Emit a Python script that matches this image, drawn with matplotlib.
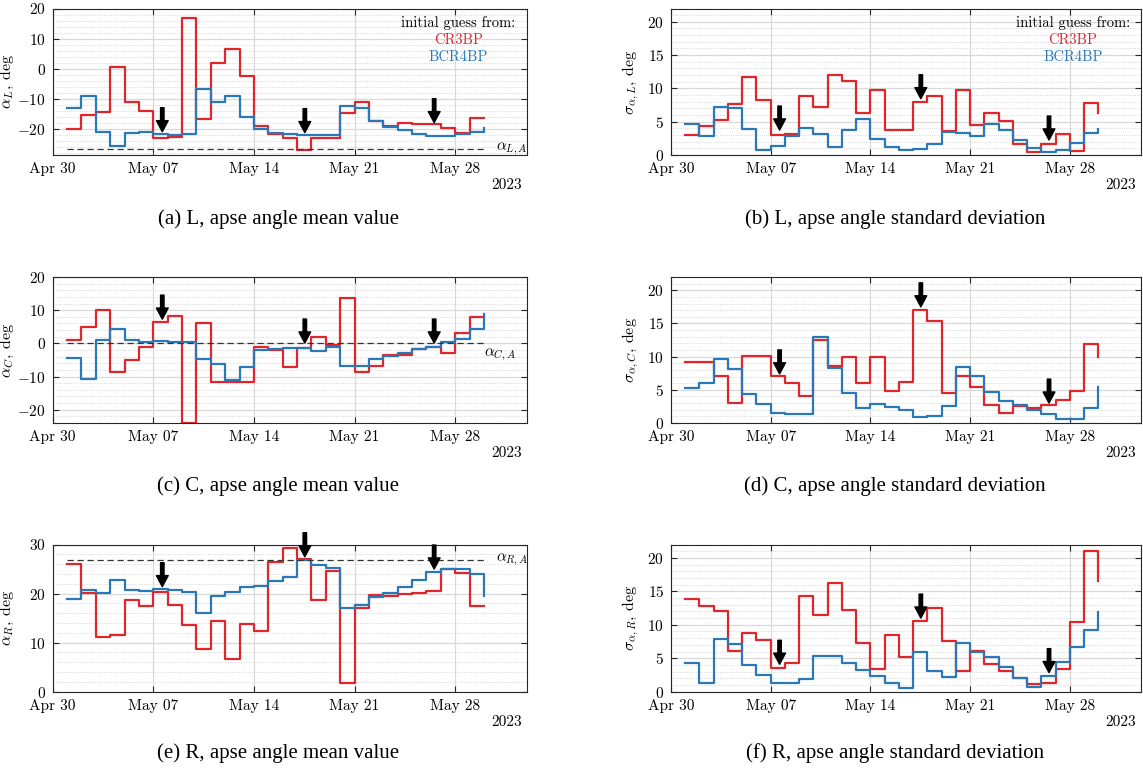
from datetime import datetime, timedelta

import matplotlib
matplotlib.use("Agg")
import matplotlib.pyplot as plt
import matplotlib.dates as mdates
from matplotlib.ticker import MultipleLocator

plt.rcParams['font.family'] = ['cmr10']
plt.rcParams['mathtext.fontset'] = 'cm'
plt.rcParams['axes.unicode_minus'] = False
plt.rcParams['axes.formatter.use_mathtext'] = True

# daily values, May 1 .. May 30 2023
days = [datetime(2023, 5, 1) + timedelta(days=i) for i in range(30)]

aL_cr3bp = [-20, -15.2, -14.2, 0.7, -10.8, -13.8, -22.8, -22.6, 17.0, -16.7, 1.9, 6.7, -2.4, -18.9, -21.4,
            -23.0, -27.0, -22.8, -22.8, -14.6, -10.8, -17.4, -18.9, -18.0, -18.3, -18.3, -19.7, -21.3, -16.3, -16.3]
aL_bcr4bp = [-13.1, -9.0, -20.9, -25.6, -21.1, -20.9, -21.4, -21.9, -21.7, -6.6, -10.8, -9.0, -15.9, -20.0, -21.1,
             -21.7, -22.0, -22.0, -21.9, -12.2, -12.8, -17.2, -19.2, -20.2, -21.4, -22.2, -22.2, -21.7, -20.9, -19.7]

sL_cr3bp = [3.0, 4.3, 5.2, 7.6, 11.65, 8.3, 3.05, 3.15, 8.85, 7.25, 11.95, 11.15, 6.25, 9.7, 3.75,
            3.7, 7.9, 8.8, 3.6, 9.75, 4.45, 6.25, 5.15, 1.65, 0.5, 1.65, 3.15, 0.65, 7.85, 6.25]
sL_bcr4bp = [4.65, 2.9, 7.15, 7.0, 3.85, 0.75, 1.3, 2.9, 4.05, 3.1, 1.2, 3.7, 5.35, 2.35, 1.2,
             0.7, 0.95, 1.65, 3.5, 3.3, 2.9, 4.65, 3.7, 2.2, 1.05, 0.45, 0.75, 1.75, 3.25, 3.85]

aC_cr3bp = [1.0, 5.0, 10.2, -8.5, -4.9, -1.2, 6.3, 8.1, -24.0, 6.2, -11.5, -11.7, -11.5, -1.1, -1.9,
            -7.2, -1.4, 2.0, -0.5, 13.7, -8.5, -6.8, -3.6, -3.6, -1.7, -1.1, -2.9, 3.1, 8.0, 8.0]
aC_bcr4bp = [-4.5, -10.7, 1.0, 4.4, 1.0, 0.5, 0.6, 0.4, 0.4, -4.8, -6.3, -11.0, -7.2, -2.0, -1.7,
             -1.5, -1.5, -2.4, -1.2, -6.7, -6.7, -4.8, -3.7, -2.8, -1.8, -1.0, 0.4, 1.4, 4.3, 8.8]

sC_cr3bp = [9.15, 9.15, 7.15, 2.95, 10.1, 10.1, 7.05, 6.0, 4.0, 12.5, 8.65, 10.0, 6.0, 10.0, 4.75,
            6.15, 17.1, 15.4, 4.55, 7.05, 5.45, 2.65, 1.55, 2.55, 2.3, 2.65, 3.5, 4.85, 11.9, 10.0]
sC_bcr4bp = [5.2, 6.05, 9.6, 8.1, 4.35, 2.9, 1.55, 1.3, 1.3, 12.95, 8.35, 4.55, 2.2, 2.85, 2.45,
             2.0, 0.95, 1.1, 2.55, 8.5, 7.05, 4.7, 3.25, 2.75, 2.0, 1.4, 0.65, 0.65, 2.25, 5.5]

aR_cr3bp = [26.05, 20.2, 11.2, 11.5, 18.6, 17.5, 20.4, 17.6, 13.5, 8.7, 14.4, 6.7, 13.7, 12.4, 26.5,
            29.2, 27.1, 18.6, 24.5, 1.8, 17.0, 19.7, 19.6, 19.9, 20.1, 20.5, 25.0, 24.1, 17.55, 17.55]
aR_bcr4bp = [18.8, 20.8, 20.1, 22.7, 20.7, 20.5, 20.9, 20.7, 20.4, 16.05, 19.6, 20.3, 21.4, 21.6, 22.6,
             23.3, 26.8, 25.9, 25.2, 17.1, 17.7, 19.25, 20.1, 21.4, 22.8, 24.3, 25.0, 25.0, 24.0, 19.6]

sR_cr3bp = [13.8, 12.85, 12.0, 6.05, 8.75, 7.8, 3.55, 4.35, 14.25, 11.4, 16.3, 12.2, 7.3, 3.45, 8.5,
            5.2, 10.6, 12.45, 7.6, 3.15, 6.05, 4.15, 3.15, 2.1, 1.15, 1.35, 3.4, 10.45, 21.0, 16.5]
sR_bcr4bp = [4.25, 1.35, 7.9, 7.15, 4.0, 2.45, 1.3, 1.3, 1.9, 5.3, 5.3, 4.3, 3.25, 2.4, 1.35,
             0.5, 5.95, 3.1, 2.15, 7.25, 5.95, 5.15, 3.7, 2.1, 0.75, 2.35, 4.5, 6.65, 9.25, 11.9]

# arrow dates and tip heights per panel
arrow_days = [datetime(2023, 5, 7, 15), datetime(2023, 5, 17, 13), datetime(2023, 5, 26, 13)]
arrows_aL = [-20.8, -21.1, -17.8]
arrows_sL = [3.75, 8.45, 2.25]
arrows_aC = [7.3, 0.1, 0.1]
arrows_sC = [7.4, 17.5, 3.0]
arrows_aR = [21.4, 27.5, 25.0]
arrows_sR = [4.1, 11.0, 2.85]

# reference apse angles
alpha_LA = -26.4
alpha_CA = 0.0
alpha_RA = 26.9

captions = ['(a) L, apse angle mean value', '(b) L, apse angle standard deviation',
            '(c) C, apse angle mean value', '(d) C, apse angle standard deviation',
            '(e) R, apse angle mean value', '(f) R, apse angle standard deviation']

red = '#e0262b'
blue = '#2a78b8'
W, H = 1143, 770

fig = plt.figure(figsize=(W / 100, H / 100), dpi=100)


def make_axes(left, right, top, bottom):
    return fig.add_axes([left / W, 1 - bottom / H, (right - left) / W, (bottom - top) / H])


def panel(ax, cr, bc, arrows, ylim, major, minor, ylabel, ylab_x, caption, cap_x, cap_y,
          ref=None, ref_label=None, ref_pos=None, legend=False):
    ax.step(days, cr, where='post', color=red, lw=1.6)
    ax.step(days, bc, where='post', color=blue, lw=1.6)
    if ref is not None:
        ax.plot([days[0], days[-1]], [ref, ref], ls='--', color='#333333', lw=0.9, dashes=(5, 3))
        ax.text(ref_pos[0], ref_pos[1], ref_label, fontsize=11, va='center', ha='left')
    for d, y in zip(arrow_days, arrows):
        ax.annotate('', xy=(d, y), xytext=(0, 24), textcoords='offset pixels',
                    arrowprops=dict(facecolor='k', edgecolor='k', width=2.5, headwidth=8.5,
                                    headlength=8, shrink=0))
    ax.set_xlim(datetime(2023, 4, 30), datetime(2023, 6, 2))
    ax.set_ylim(*ylim)
    ax.set_xticks([datetime(2023, 4, 30), datetime(2023, 5, 7), datetime(2023, 5, 14),
                   datetime(2023, 5, 21), datetime(2023, 5, 28)])
    ax.xaxis.set_major_formatter(mdates.DateFormatter('%b %d'))
    ax.yaxis.set_major_locator(MultipleLocator(major))
    ax.yaxis.set_minor_locator(MultipleLocator(minor))
    ax.grid(True, which='major', color='#d9d9d9', lw=0.9)
    ax.grid(True, which='minor', axis='y', color='#cccccc', lw=0.6, ls=':')
    ax.set_axisbelow(True)
    ax.tick_params(which='major', direction='in', top=True, right=True, length=4,
                   labelsize=11, color='#262626', pad=5)
    ax.tick_params(which='minor', length=0)
    for s in ax.spines.values():
        s.set_color('#262626')
        s.set_linewidth(0.8)
    ax.set_ylabel(ylabel, fontsize=11.5)
    ax.yaxis.set_label_coords(ylab_x, 0.5)
    ax.text(0.99, -0.205, '2023', transform=ax.transAxes, ha='right', va='center', fontsize=11)
    if legend:
        ax.text(0.855, 0.90, 'initial guess from:', transform=ax.transAxes, ha='center', va='center', fontsize=10.5)
        ax.text(0.855, 0.785, 'CR3BP', transform=ax.transAxes, ha='center', va='center', fontsize=10.5, color=red)
        ax.text(0.855, 0.67, 'BCR4BP', transform=ax.transAxes, ha='center', va='center', fontsize=10.5, color=blue)
    fig.text(cap_x / W, 1 - cap_y / H, caption, ha='center', va='center',
             fontsize=15, family='Liberation Serif')


rows = [(8.5, 155, 219), (277, 423, 486), (544.5, 691.7, 753)]
L0, L1 = 52.7, 527
R0, R1 = 671, 1141
left_lab = (16 - L0) / (L1 - L0)
right_lab = (641 - R0) / (R1 - R0)

ax = make_axes(L0, L1, rows[0][0], rows[0][1])
panel(ax, aL_cr3bp, aL_bcr4bp, arrows_aL, (-28.5, 20), 10, 2, r'$\bar{\alpha}_L$, deg', left_lab,
      captions[0], 278, rows[0][2],
      ref=alpha_LA, ref_label=r'$\alpha_{L,A}$', ref_pos=(datetime(2023, 5, 30, 20), alpha_LA), legend=True)

ax = make_axes(R0, R1, rows[0][0], rows[0][1])
panel(ax, sL_cr3bp, sL_bcr4bp, arrows_sL, (0, 22), 5, 1, r'$\sigma_{\alpha,L}$, deg', right_lab,
      captions[1], 895, rows[0][2], legend=True)

ax = make_axes(L0, L1, rows[1][0], rows[1][1])
panel(ax, aC_cr3bp, aC_bcr4bp, arrows_aC, (-24, 20), 10, 2, r'$\bar{\alpha}_C$, deg', left_lab,
      captions[2], 278, rows[1][2],
      ref=alpha_CA, ref_label=r'$\alpha_{C,A}$', ref_pos=(datetime(2023, 5, 30), alpha_CA - 3.4))

ax = make_axes(R0, R1, rows[1][0], rows[1][1])
panel(ax, sC_cr3bp, sC_bcr4bp, arrows_sC, (0, 22), 5, 1, r'$\sigma_{\alpha,C}$, deg', right_lab,
      captions[3], 895, rows[1][2])

ax = make_axes(L0, L1, rows[2][0], rows[2][1])
panel(ax, aR_cr3bp, aR_bcr4bp, arrows_aR, (0, 30), 10, 2, r'$\bar{\alpha}_R$, deg', left_lab,
      captions[4], 278, rows[2][2],
      ref=alpha_RA, ref_label=r'$\alpha_{R,A}$', ref_pos=(datetime(2023, 5, 30, 20), alpha_RA))

ax = make_axes(R0, R1, rows[2][0], rows[2][1])
panel(ax, sR_cr3bp, sR_bcr4bp, arrows_sR, (0, 22), 5, 1, r'$\sigma_{\alpha,R}$, deg', right_lab,
      captions[5], 895, rows[2][2])

fig.savefig('out.png', dpi=100)
